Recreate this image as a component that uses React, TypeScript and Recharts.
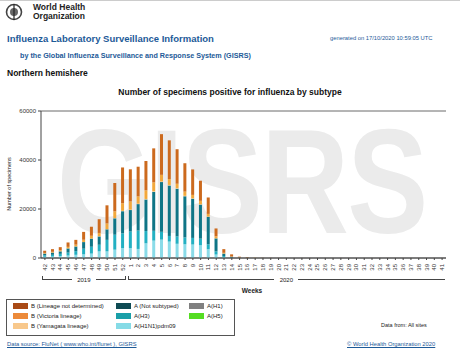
import { BarChart, Bar, XAxis, YAxis, CartesianGrid } from 'recharts';

const weeks = [
  '42', '43', '44', '45', '46', '47', '48', '49', '50', '51', '52',
  '1', '2', '3', '4', '5', '6', '7', '8', '9', '10',
  '11', '12', '13', '14', '15', '16', '17', '18', '19', '20',
  '21', '22', '23', '24', '25', '26', '27', '28', '29', '30',
  '31', '32', '33', '34', '35', '36', '37', '38', '39', '40', '41',
];

const h1n1pdm09 = [
  500, 600, 800, 1000, 1300, 1500, 1800, 2700, 2700, 3400, 4050,
  4050, 3700, 6000, 7100, 7500, 6700, 5800, 5600, 5500, 5200,
  3600, 1400, 300, 80, 30, 10, 5, 3, 2, 2,
  2, 1, 1, 1, 1, 1, 1, 1, 1, 1,
  1, 1, 1, 1, 1, 1, 1, 1, 1, 1, 1,
];
const h3 = [
  600, 700, 900, 1200, 1500, 2300, 2800, 2700, 4700, 6100, 6000,
  6750, 7500, 5000, 4000, 3200, 2300, 3000, 2800, 2700, 2700,
  2000, 1300, 500, 120, 50, 20, 10, 5, 3, 3,
  2, 2, 2, 2, 2, 2, 2, 2, 2, 2,
  2, 2, 2, 2, 2, 2, 2, 2, 2, 2, 2,
];
const notSubtyped = [
  700, 900, 1000, 1700, 1900, 2700, 3300, 3400, 4300, 6700, 9050,
  8775, 10800, 12900, 15900, 20300, 20600, 19500, 16800, 16000, 13900,
  11200, 5300, 1000, 300, 120, 60, 30, 15, 10, 8,
  5, 5, 5, 5, 5, 5, 5, 5, 5, 5,
  5, 5, 5, 5, 5, 5, 5, 5, 5, 5, 5,
];
const yamagata = [
  20, 20, 30, 40, 50, 50, 60, 80, 100, 120, 150,
  150, 160, 200, 250, 250, 230, 200, 180, 160, 140,
  100, 60, 20, 10, 5, 3, 2, 1, 1, 1,
  1, 1, 1, 1, 1, 1, 1, 1, 1, 1,
  1, 1, 1, 1, 1, 1, 1, 1, 1, 1, 1,
];
const victoria = [
  250, 300, 400, 600, 700, 900, 1100, 1350, 2300, 2700, 3100,
  3375, 3000, 3500, 3600, 2700, 2400, 1800, 1700, 1400, 1400,
  1100, 800, 300, 100, 40, 20, 10, 5, 3, 2,
  1, 1, 1, 1, 1, 1, 1, 1, 1, 1,
  1, 1, 1, 1, 1, 1, 1, 1, 1, 1, 1,
];
const lineageNotDetermined = [
  900, 1100, 1300, 1800, 1950, 3200, 3700, 5600, 7400, 11600, 14600,
  13100, 12100, 12000, 13900, 16600, 15800, 14100, 11600, 10400, 8200,
  6700, 3200, 1500, 880, 300, 190, 95, 60, 40, 30,
  15, 15, 15, 15, 15, 15, 15, 15, 15, 15,
  15, 15, 15, 15, 15, 15, 15, 15, 15, 15, 15,
];

const yTicks = [0, 20000, 40000, 60000];
const years = [
  { label: '2019', count: 11 },
  { label: '2020', count: 41 },
];

const data = weeks.map((w, i) => ({
  week: w,
  h1n1pdm09: h1n1pdm09[i],
  h3: h3[i],
  notSubtyped: notSubtyped[i],
  yamagata: yamagata[i],
  victoria: victoria[i],
  lnd: lineageNotDetermined[i],
}));

const legendItems = [
  { label: 'B (Lineage not determined)', color: '#a94a16', col: 0, row: 0 },
  { label: 'B (Victoria lineage)', color: '#ec8a3a', col: 0, row: 1 },
  { label: 'B (Yamagata lineage)', color: '#f8c88c', col: 0, row: 2 },
  { label: 'A (Not subtyped)', color: '#0e4b54', col: 1, row: 0 },
  { label: 'A(H3)', color: '#1a9fa8', col: 1, row: 1 },
  { label: 'A(H1N1)pdm09', color: '#86dbe6', col: 1, row: 2 },
  { label: 'A(H1)', color: '#808080', col: 2, row: 0 },
  { label: 'A(H5)', color: '#55dd22', col: 2, row: 1 },
];
const legendColX = [12, 115, 188];

const FONT = 'Arial, "Liberation Sans", sans-serif';
const BLUE = '#1d5a98';

// plot area geometry
const PLOT_L = 41;
const PLOT_R = 446;
const PLOT_T = 111;
const PLOT_B = 258;

const WeekTick = (props: any) => {
  const { x, y, payload } = props;
  return (
    <text
      x={x}
      y={y + 2}
      transform={`rotate(-90 ${x} ${y + 2})`}
      textAnchor="end"
      dominantBaseline="central"
      fontSize={6}
      fill="#333"
      fontFamily={FONT}
    >
      {payload.value}
    </text>
  );
};

export default function App() {
  const total = weeks.length;
  const slot = (PLOT_R - PLOT_L) / total;
  let start = 0;
  const brackets = years.map((yr, i) => {
    const x0 = PLOT_L + start * slot;
    const x1 = PLOT_L + (start + yr.count) * slot;
    start += yr.count;
    return { ...yr, x0, x1, closed: i < years.length - 1 };
  });

  return (
    <div
      style={{
        position: 'absolute',
        left: 0,
        top: 0,
        width: 460,
        height: 353,
        background: '#fff',
        fontFamily: FONT,
        overflow: 'hidden',
      }}
    >
      <div style={{ position: 'absolute', left: 0, top: 0, width: 460, height: 1, background: '#ccc' }} />
      {/* WHO emblem */}
      <svg style={{ position: 'absolute', left: 5, top: 3 }} width={18} height={18}>
        <circle cx={9} cy={9} r={7.5} fill="none" stroke="#444" strokeWidth={1.6} />
        <circle cx={9} cy={9} r={4} fill="#666" />
        <line x1={9} y1={1} x2={9} y2={17} stroke="#222" strokeWidth={1.2} />
      </svg>
      <div style={{ position: 'absolute', left: 33, top: 3, fontSize: 8.5, fontWeight: 'bold', lineHeight: '8.5px', color: '#222' }}>
        World Health
        <br />
        Organization
      </div>

      <div style={{ position: 'absolute', left: 7, top: 33, fontSize: 9.5, fontWeight: 'bold', color: BLUE }}>
        Influenza Laboratory Surveillance Information
      </div>
      <div style={{ position: 'absolute', left: 330, top: 35, fontSize: 5.8, color: BLUE }}>
        generated on 17/10/2020 10:59:05 UTC
      </div>
      <div style={{ position: 'absolute', left: 20, top: 51, fontSize: 7.2, fontWeight: 'bold', color: BLUE }}>
        by the Global Influenza Surveillance and Response System (GISRS)
      </div>
      <div style={{ position: 'absolute', left: 7, top: 68, fontSize: 8.5, fontWeight: 'bold', color: '#111' }}>
        Northern hemishere
      </div>
      <div
        style={{
          position: 'absolute',
          left: 0,
          width: 460,
          top: 87,
          textAlign: 'center',
          fontSize: 8.5,
          fontWeight: 'bold',
          color: '#111',
        }}
      >
        Number of specimens positive for influenza by subtype
      </div>

      {/* GISRS watermark */}
      <div
        style={{
          position: 'absolute',
          left: 57,
          top: 108,
          width: 376,
          height: 140,
          overflow: 'visible',
        }}
      >
        <div
          style={{
            position: 'absolute',
            left: 0,
            top: 0,
            fontSize: 148,
            lineHeight: '148px',
            fontWeight: 'bold',
            color: '#ebebeb',
            whiteSpace: 'nowrap',
            transform: 'scaleX(0.82)',
            transformOrigin: '0 0',
            letterSpacing: -2,
          }}
        >
          GISRS
        </div>
      </div>

      <div style={{ position: 'absolute', left: 0, top: 0 }}>
        <BarChart
          width={460}
          height={353}
          data={data}
          margin={{ top: PLOT_T, right: 460 - PLOT_R, bottom: 353 - PLOT_B - 16, left: 11 }}
          barCategoryGap="28%"
        >
          <CartesianGrid vertical={false} stroke="#444" strokeWidth={0.8} />
          <XAxis
            dataKey="week"
            interval={0}
            tick={<WeekTick />}
            tickSize={2}
            height={16}
            stroke="#444"
            tickLine={{ stroke: '#444' }}
          />
          <YAxis
            yAxisId="left"
            domain={[0, 60000]}
            ticks={yTicks}
            width={30}
            tickSize={3}
            stroke="#444"
            tick={{ fontSize: 6, fill: '#333', fontFamily: FONT }}
            interval={0}
          />
          <YAxis yAxisId="right" orientation="right" width={0} tick={false} tickLine={false} stroke="#444" domain={[0, 60000]} />
          <Bar yAxisId="left" dataKey="h1n1pdm09" stackId="a" fill="#8adbe8" isAnimationActive={false} />
          <Bar yAxisId="left" dataKey="h3" stackId="a" fill="#23b0c2" isAnimationActive={false} />
          <Bar yAxisId="left" dataKey="notSubtyped" stackId="a" fill="#0f7586" isAnimationActive={false} />
          <Bar yAxisId="left" dataKey="yamagata" stackId="a" fill="#f8cc90" isAnimationActive={false} />
          <Bar yAxisId="left" dataKey="victoria" stackId="a" fill="#f2a83c" isAnimationActive={false} />
          <Bar yAxisId="left" dataKey="lnd" stackId="a" fill="#cc6a1e" isAnimationActive={false} />
        </BarChart>
      </div>

      {/* y axis title */}
      <div
        style={{
          position: 'absolute',
          left: 9,
          top: 184,
          transform: 'translate(-50%, -50%) rotate(-90deg)',
          fontSize: 5.5,
          color: '#222',
          whiteSpace: 'nowrap',
        }}
      >
        Number of specimens
      </div>

      {/* year brackets */}
      {brackets.map((b) => (
        <div key={b.label}>
          <div
            style={{
              position: 'absolute',
              left: b.x0 + 1,
              top: 276,
              width: b.x1 - b.x0 - 2,
              height: 4,
              borderLeft: '1px solid #444',
              borderRight: b.closed ? '1px solid #444' : 'none',
              borderBottom: '1px solid #444',
              boxSizing: 'border-box',
            }}
          />
          <div
            style={{
              position: 'absolute',
              left: (b.x0 + b.x1) / 2 - 12,
              width: 24,
              top: 276,
              textAlign: 'center',
              fontSize: 6,
              lineHeight: '8px',
              color: '#222',
              background: '#fff',
            }}
          >
            {b.label}
          </div>
        </div>
      ))}

      <div style={{ position: 'absolute', left: 232, width: 40, top: 287, textAlign: 'center', fontSize: 6.5, fontWeight: 'bold', color: '#222' }}>
        Weeks
      </div>

      {/* legend */}
      <div
        style={{
          position: 'absolute',
          left: 6,
          top: 299,
          width: 229,
          height: 37,
          border: '1px solid #555',
          boxSizing: 'border-box',
        }}
      >
        {legendItems.map((it) => (
          <div
            key={it.label}
            style={{
              position: 'absolute',
              left: legendColX[it.col] - 6,
              top: 3 + it.row * 10,
              display: 'flex',
              alignItems: 'center',
              fontSize: 6,
              color: '#222',
              whiteSpace: 'nowrap',
            }}
          >
            <span style={{ display: 'inline-block', width: 15, height: 6, background: it.color, marginRight: 3 }} />
            {it.label}
          </div>
        ))}
      </div>

      <div style={{ position: 'absolute', left: 381, top: 322, fontSize: 5.5, color: '#222' }}>Data from: All sites</div>

      <div style={{ position: 'absolute', left: 7, top: 341, fontSize: 5.8, color: BLUE, textDecoration: 'underline' }}>
        Data source: FluNet ( www.who.int/flunet ), GISRS
      </div>
      <div style={{ position: 'absolute', left: 347, top: 341, fontSize: 5.8, color: BLUE, textDecoration: 'underline' }}>
        © World Health Organization 2020
      </div>
    </div>
  );
}
